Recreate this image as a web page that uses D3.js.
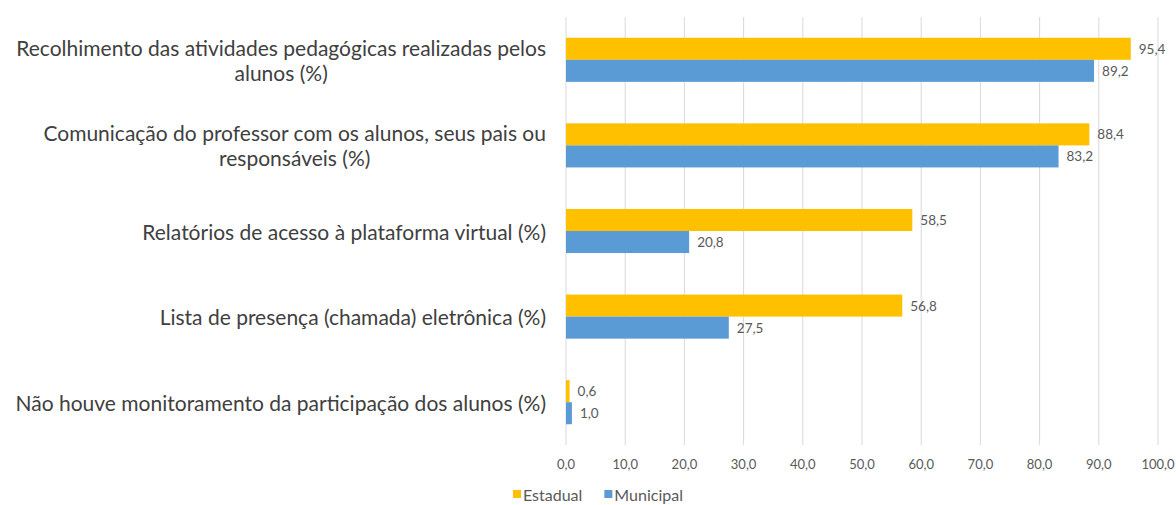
<!DOCTYPE html>
<html>
<head>
<meta charset="utf-8">
<script src="https://cdn.jsdelivr.net/npm/d3@7"></script>
<style>
  body { margin: 0; background: #fff; }
  svg { display: block; }
</style>
</head>
<body>
<div class="chart"></div>
<script>
// dados
var categories = [
  "Recolhimento das atividades pedagógicas realizadas pelos\nalunos (%)",
  "Comunicação do professor com os alunos, seus pais ou\nresponsáveis (%)",
  "Relatórios de acesso à plataforma virtual (%)",
  "Lista de presença (chamada) eletrônica (%)",
  "Não houve monitoramento da participação dos alunos (%)"
];
var series = ["Estadual", "Municipal"];
var data_estadual = [95.4, 88.4, 58.5, 56.8, 0.6];
var data_municipal = [89.2, 83.2, 20.8, 27.5, 1.0];
var xTicks = [0, 10, 20, 30, 40, 50, 60, 70, 80, 90, 100];

var color = ["#FFC000", "#5B9BD5"];
var font = "Lato, 'Open Sans', sans-serif";
var fmt = function(v) { return d3.format(".1f")(v).replace(".", ","); };

var width = 1176, height = 505;

var svg = d3.select(".chart")
  .append("svg")
  .attr("width", width)
  .attr("height", height);

var x = d3.scaleLinear().domain([0, 100]).range([566, 1158]);
var y = d3.scaleBand().domain(categories).range([17, 445])
  .paddingInner(0.485).paddingOuter(0.2425);
var ySub = d3.scaleBand().domain(series).range([0, y.bandwidth()]);

// linhas de grade
svg.append("g").selectAll("line")
  .data(xTicks)
  .join("line")
  .attr("x1", d => x(d)).attr("x2", d => x(d))
  .attr("y1", 17).attr("y2", 445)
  .style("stroke", "#d9d9d9")
  .style("stroke-width", 1);

// rótulos do eixo x
svg.append("g").selectAll("text")
  .data(xTicks)
  .join("text")
  .attr("x", d => x(d))
  .attr("y", 464)
  .attr("text-anchor", "middle")
  .attr("dominant-baseline", "central")
  .attr("font-family", font)
  .style("font-size", "13px")
  .attr("fill", "#595959")
  .text(d => fmt(d));

// barras
var rows = categories.map((c, i) => ({ cat: c, values: [data_estadual[i], data_municipal[i]] }));

var groups = svg.append("g").selectAll("g")
  .data(rows)
  .join("g")
  .attr("transform", d => "translate(0," + y(d.cat) + ")");

groups.selectAll("rect")
  .data(d => d.values.map((v, j) => ({ s: series[j], v: v, j: j })))
  .join("rect")
  .attr("x", x(0))
  .attr("y", d => ySub(d.s))
  .attr("width", d => x(d.v) - x(0))
  .attr("height", ySub.bandwidth())
  .attr("fill", d => color[d.j]);

groups.selectAll("text")
  .data(d => d.values.map((v, j) => ({ s: series[j], v: v, j: j })))
  .join("text")
  .attr("x", d => x(d.v) + 8)
  .attr("y", d => ySub(d.s) + ySub.bandwidth() / 2)
  .attr("dominant-baseline", "central")
  .attr("font-family", font)
  .style("font-size", "13.5px")
  .attr("fill", "#595959")
  .text(d => fmt(d.v));

// rótulos das categorias
var labelRight = 546, lineH = 25;
categories.forEach(function(c) {
  var lines = c.split("\n");
  var cy = y(c) + y.bandwidth() / 2;
  var t = svg.append("text")
    .attr("text-anchor", "middle")
    .attr("font-family", font)
    .style("font-size", "21px")
    .attr("fill", "#404040");
  lines.forEach(function(l, k) {
    t.append("tspan")
      .attr("y", cy + (k - (lines.length - 1) / 2) * lineH)
      .attr("dominant-baseline", "central")
      .text(l);
  });
  var w = d3.max(t.selectAll("tspan").nodes(), n => n.getComputedTextLength());
  t.selectAll("tspan").attr("x", labelRight - w / 2);
});

// legenda
var legend = svg.append("g").attr("transform", "translate(513,494)");
var lx = 0;
series.forEach(function(s, i) {
  var g = legend.append("g").attr("transform", "translate(" + lx + ",0)");
  g.append("rect")
    .attr("x", 0).attr("y", -4)
    .attr("width", 8).attr("height", 8)
    .attr("fill", color[i]);
  var tx = g.append("text")
    .attr("x", 10)
    .attr("y", 0)
    .attr("dominant-baseline", "central")
    .attr("font-family", font)
    .style("font-size", "16px")
    .attr("fill", "#595959")
    .text(s);
  lx += 10 + tx.node().getComputedTextLength() + 22;
});
</script>
</body>
</html>
